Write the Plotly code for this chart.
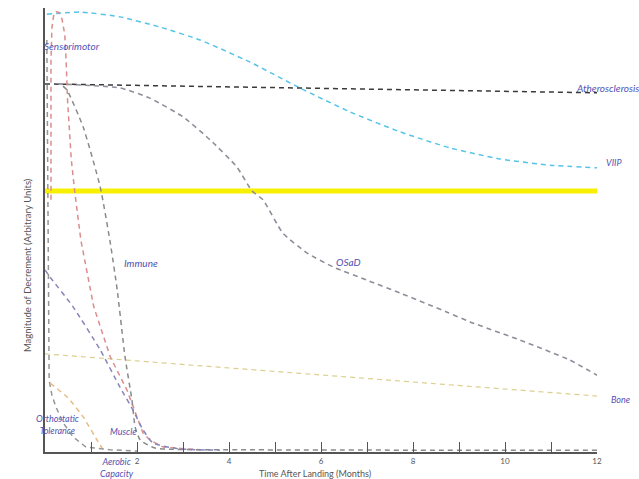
import plotly.graph_objects as go

# Time after landing (months) and magnitude of decrement (arbitrary units) per system
viip_t = [0.04, 0.76, 1.63, 2.5, 3.37, 4.46, 5.54, 6.63, 7.72, 8.8, 9.89, 10.98, 12.0]
viip_v = [98.6, 99.1, 98.0, 95.7, 92.8, 87.8, 82.0, 76.6, 72.1, 68.5, 66.0, 64.6, 64.0]

ather_t = [0.0, 12.0]
ather_v = [82.9, 80.9]

threshold_t = [0.0, 12.0]
threshold_v = [58.8, 58.8]

osad_t = [0.28, 1.63, 2.28, 3.0, 3.59, 4.17, 4.5, 4.74, 5.17, 5.7, 6.26, 7.0, 7.72, 8.74, 9.24, 10.33, 11.41, 12.0]
osad_v = [82.9, 82.0, 79.7, 75.5, 70.3, 64.2, 58.8, 56.8, 49.3, 44.8, 41.7, 38.7, 35.8, 31.5, 29.3, 25.2, 20.7, 17.3]

bone_t = [0.0, 12.0]
bone_v = [22.1, 12.6]

senso_t = [0.13, 0.13, 0.15, 0.19, 0.24, 0.3, 0.37, 0.43, 0.46, 0.49, 0.57, 0.65, 0.78, 1.06, 1.42, 1.78, 2.0, 2.13, 2.28, 2.57, 3.37]
senso_v = [56.8, 88.0, 95.5, 98.5, 99.2, 99.0, 97.5, 94.0, 88.0, 79.3, 66.0, 58.3, 47.7, 32.7, 21.4, 14.0, 7.9, 4.3, 2.7, 1.1, 0.5]

immune_t = [0.39, 0.48, 0.83, 1.2, 1.41, 1.57, 1.74, 1.89, 1.96, 2.07, 2.39, 4.46, 12.0]
immune_v = [82.4, 81.5, 73.2, 59.7, 47.7, 36.5, 21.4, 11.7, 5.6, 2.7, 0.9, 0.5, 0.4]

muscle_t = [0.0, 0.11, 0.61, 1.2, 1.63, 1.91, 2.13, 2.35, 2.93, 3.8]
muscle_v = [41.0, 39.4, 32.7, 23.0, 14.6, 9.5, 5.0, 2.0, 0.7, 0.4]

ortho_t = [0.04, 0.07, 0.09, 0.15, 0.24, 0.4, 0.61, 0.89, 1.41, 2.0]
ortho_v = [92.8, 56.8, 16.2, 12.8, 10.1, 6.5, 3.4, 1.1, 0.5, 0.2]

aerobic_t = [0.11, 0.48, 0.83, 1.13, 1.24]
aerobic_v = [15.5, 12.4, 7.9, 2.7, 0.9]

month_ticks = list(range(1, 13))
month_labels = [str(m) if m % 2 == 0 else "" for m in month_ticks]

X_MAX, Y_MAX = 12.0, 100.0
DASH = "5px,4px"

series = [
    (viip_t, viip_v, "#55c4e6", 1.5, "spline"),
    (ather_t, ather_v, "#3a3a3a", 1.5, "linear"),
    (osad_t, osad_v, "#8e8e9a", 1.6, "spline"),
    (bone_t, bone_v, "#dccf8e", 1.2, "linear"),
    (senso_t, senso_v, "#dc8c8c", 1.5, "linear"),
    (immune_t, immune_v, "#8a8a8a", 1.5, "spline"),
    (muscle_t, muscle_v, "#8585bb", 1.5, "spline"),
    (ortho_t, ortho_v, "#959595", 1.5, "linear"),
    (aerobic_t, aerobic_v, "#e6bd84", 1.5, "spline"),
]

fig = go.Figure()
fig.add_trace(go.Scatter(x=threshold_t, y=threshold_v, mode="lines",
                         line=dict(color="#f7f000", width=5), hoverinfo="skip"))
for t, v, color, width, shape in series:
    line = dict(color=color, width=width, dash=DASH, shape=shape)
    if shape == "spline":
        line["smoothing"] = 0.5
    fig.add_trace(go.Scatter(x=t, y=v, mode="lines", line=line, hoverinfo="skip"))

# Curve labels, placed in paper space so those beside the axes stay visible
label_font = dict(family="Lato, Noto Sans, sans-serif", size=10, color="#5252b2")
labels = [
    ("<i>Sensorimotor</i>", -0.07, 91.4, "left", 10),
    ("<i>Atherosclerosis</i>", 11.5, 82.0, "left", 10),
    ("<i>VIIP</i>", 12.15, 65.1, "left", 9),
    ("<i>Immune</i>", 1.67, 42.6, "left", 10),
    ("<i>OSaD</i>", 6.28, 42.8, "left", 10),
    ("<i>Bone</i>", 12.26, 11.9, "left", 9),
    ("<i>Orthostatic<br>Tolerance</i>", 0.28, 6.1, "center", 9),
    ("<i>Muscle</i>", 1.37, 4.7, "left", 9),
    ("<i>Aerobic<br>Capacity</i>", 1.57, -3.4, "center", 9),
]
for text, x, y, anchor, size in labels:
    fig.add_annotation(x=x / X_MAX, y=y / Y_MAX, xref="paper", yref="paper",
                       text=text, showarrow=False, xanchor=anchor,
                       yanchor="middle", font=dict(label_font, size=size),
                       align="center")

fig.add_annotation(x=0.49, y=-0.049, xref="paper", yref="paper",
                   text="Time After Landing (Months)", showarrow=False,
                   yanchor="middle", font=dict(family="Lato, sans-serif", size=9, color="#555555"))
fig.add_annotation(x=-0.018, y=0.42, xref="paper", yref="paper",
                   text="Magnitude of Decrement (Arbitrary Units)", showarrow=False,
                   textangle=-90, xanchor="right",
                   font=dict(family="Lato, sans-serif", size=9.5, color="#555555"))

fig.update_xaxes(range=[0, X_MAX], tickvals=month_ticks, ticktext=month_labels,
                 ticks="inside", ticklen=10, tickwidth=1.2, tickcolor="#555555",
                 showline=True, linecolor="#555555", linewidth=2,
                 showgrid=False, zeroline=False,
                 tickfont=dict(family="Lato, sans-serif", size=8, color="#555555"))
fig.update_yaxes(range=[0, Y_MAX], showticklabels=False, ticks="",
                 showline=True, linecolor="#555555", linewidth=2,
                 showgrid=False, zeroline=False)

fig.update_layout(width=639, height=479, showlegend=False,
                  margin=dict(l=45, r=42, t=8, b=27),
                  paper_bgcolor="white", plot_bgcolor="white")

fig.write_html("out.html")
